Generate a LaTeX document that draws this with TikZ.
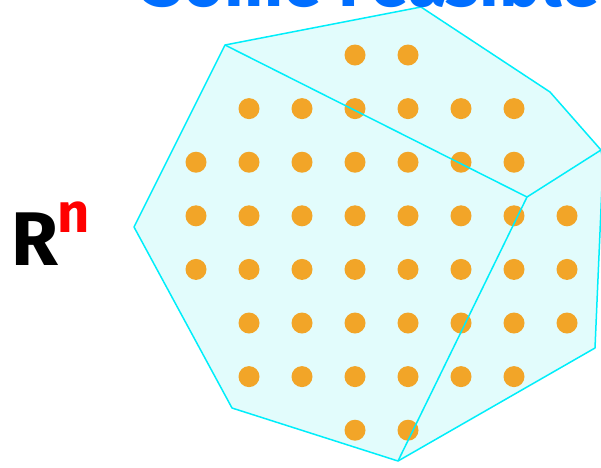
\documentclass[tikz,border=0pt]{standalone}
\usepackage{fontspec}
\setmainfont{Fira Sans}
\usepackage{xcolor}
\usepackage{tikz}

\definecolor{dotorange}{RGB}{242,165,40}
\definecolor{titleblue}{RGB}{0,110,255}
\definecolor{edgecyan}{RGB}{0,238,250}
\definecolor{facecyan}{RGB}{226,252,252}

\begin{document}
\begin{tikzpicture}[x=1pt, y=-1pt,
    face/.style={fill=facecyan},
    edge/.style={edgecyan, line width=1.5pt, line join=round},
    lattice/.style={circle, fill=dotorange, inner sep=0pt, minimum size=21pt}]
    \clip (0,0) rectangle (601,467);

    % Corners of the cone
    \coordinate (tl) at (225,45);
    \coordinate (tp) at (421,7);
    \coordinate (ur) at (550,92);
    \coordinate (rr) at (601,150);
    \coordinate (rx) at (603,162);
    \coordinate (br) at (595,348);
    \coordinate (bt) at (398,461);
    \coordinate (bl) at (232,408);
    \coordinate (ll) at (134,227);
    \coordinate (ctr) at (527,197);

    % Faces
    \fill[face] (tl) -- (tp) -- (ur) -- (rr) -- (ctr) -- cycle;
    \fill[face] (ctr) -- (rr) -- (rx) -- (br) -- (bt) -- cycle;
    \fill[face] (tl) -- (ctr) -- (bt) -- (bl) -- (ll) -- cycle;

    % Lattice points inside
    \foreach \j/\kmin/\kmax in {0/3/4, 1/1/6, 2/0/6, 3/0/7, 4/0/7, 5/1/7, 6/1/6, 7/3/4} {
        \foreach \k in {\kmin,...,\kmax} {
            \node[lattice] (p\j\k) at ({196+53*\k}, {55+53.6*\j}) {};
        }
    }

    % Edges
    \draw[edge] (tl) -- (tp) -- (ur) -- (rr) -- (rx) -- (br) -- (bt) -- (bl) -- (ll) -- cycle;
    \draw[edge] (tl) -- (ctr) -- (rr);
    \draw[edge] (ctr) -- (bt);

    % Labels
    \node[titleblue, anchor=base west, inner sep=0pt, font=\fontsize{70}{72}\selectfont\bfseries] (title) at (143,6.5) {Some Feasible};
    \node[black, anchor=base west, inner sep=0pt, font=\fontsize{76}{78}\selectfont\bfseries] (rlabel) at (11,265) {R};
    \node[red, anchor=base west, inner sep=0pt, font=\fontsize{56}{58}\selectfont\bfseries] (nlabel) at (57,232) {n};
\end{tikzpicture}
\end{document}
